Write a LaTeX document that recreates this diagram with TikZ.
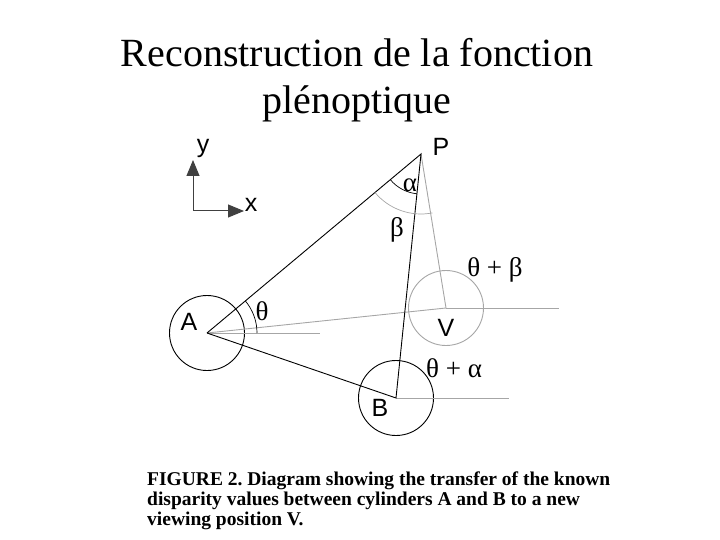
\documentclass[tikz,border=0pt]{standalone}
\usepackage{fontspec}
\setmainfont{Liberation Serif}
\newfontfamily\arial{Liberation Sans}
\usetikzlibrary{arrows.meta}
\frenchspacing
\begin{document}
\begin{tikzpicture}[x=1pt,y=1pt,
  blk/.style={draw=black,line width=0.9pt},
  gry/.style={draw=black!35,line width=0.9pt},
  lbl/.style={font=\arial\fontsize{25}{25}\selectfont,inner sep=0pt},
  grk/.style={font=\fontsize{27}{27}\selectfont,inner sep=0pt},
  cyl/.style={circle,minimum size=75pt,inner sep=0pt}]
\useasboundingbox (0,0) rectangle (720,-540);
% title
\node[font=\fontsize{40}{47}\selectfont,align=center] (title) at (357,-80) {Reconstruction de la fonction\\plénoptique};
% points
\coordinate (P) at (421,-154);
\coordinate (A) at (207,-333);
\coordinate (B) at (396,-398);
\coordinate (V) at (446,-308);
\coordinate (Ae) at (320,-333);
\coordinate (Ve) at (559,-308);
\coordinate (Be) at (509,-398);
% circles
\node[cyl,blk] (cA) at (A) {};
\node[cyl,blk] (cB) at (B) {};
\node[cyl,gry] (cV) at (V) {};
% gray lines
\draw[gry] (A) -- (Ae);
\draw[gry] (V) -- (Ve);
\draw[gry] (B) -- (Be);
\draw[gry] (A) -- (V);
\draw[gry] (P) -- (V);
% black lines
\draw[blk] (A) -- (P) -- (B) -- (A);
% angle arcs
\draw[blk,line width=0.7pt] ([shift={(0:50)}]A) arc (0:40:50);
\draw[blk,line width=0.7pt] ([shift={(220:40)}]P) arc (220:264:40);
\draw[gry,line width=0.7pt] ([shift={(220:60)}]P) arc (220:281:60);
% axes
\coordinate (O) at (193,-211);
\coordinate (Oy) at (193,-160);
\coordinate (Ox) at (244,-211);
\draw[draw=black!75,line width=1pt,-{Triangle[length=16pt,width=13pt]}] (O) -- (Oy);
\draw[draw=black!75,line width=1pt,-{Triangle[length=16pt,width=13pt]}] (O) -- (Ox);
% labels
\node[lbl] (ly) at (203,-148) {y};
\node[lbl] (lx) at (251,-205) {x};
\node[lbl] (lP) at (441,-147) {P};
\node[lbl] (lA) at (189,-322) {A};
\node[lbl] (lB) at (380,-408) {B};
\node[lbl] (lV) at (446,-328) {V};
\node[grk] (th) at (262,-311) {θ};
\node[grk] (al) at (410,-185) {α};
\node[grk] (be) at (397,-230) {β};
\node[grk] (tb) at (495,-270) {θ + β};
\node[grk] (ta) at (454,-368) {θ + α};
% caption
\node[font=\bfseries\fontsize{19.5}{20}\selectfont,align=left,anchor=north west,inner sep=0pt] (cap) at (147,-472) {FIGURE 2. Diagram showing the transfer of the known\\disparity values between cylinders A and B to a new\\viewing position V.};
\end{tikzpicture}
\end{document}
